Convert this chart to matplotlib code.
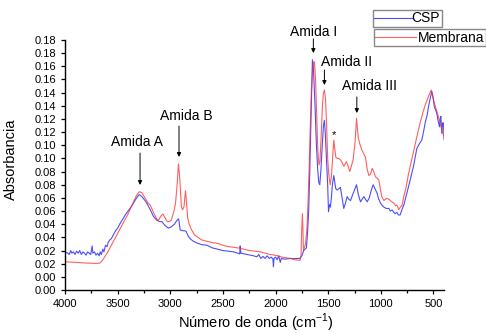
import matplotlib
matplotlib.use('Agg')
import matplotlib.pyplot as plt
from matplotlib.ticker import MultipleLocator, FixedLocator, FixedFormatter

plt.rcParams['font.family'] = ['Liberation Sans', 'DejaVu Sans']
plt.rcParams['mathtext.fontset'] = 'custom'
plt.rcParams['mathtext.rm'] = 'Liberation Sans'

# CSP spectrum (wavenumber, absorbance)
csp_wn = [4000, 3980, 3960, 3945, 3935, 3920, 3905, 3890, 3875, 3860,
          3845, 3830, 3815, 3800, 3785, 3770, 3755, 3742, 3735, 3720,
          3705, 3690, 3675, 3665, 3655, 3640, 3630, 3615, 3600, 3590,
          3575, 3560, 3540, 3520, 3500, 3477, 3450, 3420, 3382, 3350,
          3320, 3295, 3270, 3240, 3223, 3190, 3160, 3128, 3100, 3080,
          3050, 3017, 2990, 2960, 2937, 2920, 2906, 2880, 2860, 2849,
          2830, 2811, 2780, 2740, 2700, 2652, 2600, 2550, 2500, 2450,
          2399, 2360, 2340, 2336, 2330, 2300, 2270, 2240, 2208, 2190,
          2176, 2160, 2140, 2120, 2100, 2080, 2060, 2040, 2025, 2020,
          2015, 2000, 1985, 1970, 1955, 1945, 1920, 1891, 1860, 1830,
          1800, 1771, 1750, 1733, 1720, 1707, 1695, 1685, 1675, 1665,
          1655, 1650, 1640, 1625, 1612, 1600, 1590, 1580, 1570, 1555,
          1545, 1536, 1528, 1515, 1505, 1497, 1487, 1479, 1470, 1460,
          1447, 1438, 1428, 1415, 1400, 1384, 1368, 1352, 1336, 1320,
          1305, 1288, 1270, 1250, 1231, 1215, 1193, 1178, 1162, 1146,
          1130, 1110, 1090, 1073, 1055, 1035, 1020, 1003, 985, 971,
          950, 924, 910, 892, 876, 864, 848, 832, 817, 800,
          780, 753, 720, 690, 658, 635, 611, 595, 579, 560,
          548, 530, 516, 505, 491, 480, 468, 455, 443, 436,
          430, 425, 421, 413, 405, 398]
csp_abs = [0.028, 0.0285, 0.027, 0.030, 0.028, 0.029, 0.027, 0.0295, 0.028, 0.030,
           0.027, 0.029, 0.028, 0.0265, 0.029, 0.028, 0.027, 0.0335, 0.028, 0.029,
           0.0265, 0.028, 0.026, 0.029, 0.027, 0.031, 0.029, 0.034, 0.033, 0.036,
           0.038, 0.039, 0.042, 0.045, 0.047, 0.0505, 0.054, 0.058, 0.062, 0.066,
           0.070, 0.0725, 0.071, 0.068, 0.066, 0.061, 0.056, 0.053, 0.052, 0.052,
           0.049, 0.047, 0.048, 0.050, 0.053, 0.054, 0.0456, 0.045, 0.045, 0.0445,
           0.041, 0.039, 0.037, 0.0355, 0.0345, 0.034, 0.032, 0.031, 0.030, 0.0295,
           0.029, 0.028, 0.0275, 0.0335, 0.028, 0.0275, 0.027, 0.0265, 0.026, 0.0255,
           0.0253, 0.027, 0.024, 0.0255, 0.024, 0.026, 0.024, 0.025, 0.0235, 0.0177,
           0.024, 0.025, 0.023, 0.026, 0.021, 0.024, 0.0235, 0.0236, 0.024, 0.0238,
           0.024, 0.024, 0.026, 0.030, 0.031, 0.032, 0.045, 0.061, 0.090, 0.125,
           0.160, 0.175, 0.168, 0.140, 0.110, 0.092, 0.082, 0.080, 0.090, 0.112,
           0.125, 0.129, 0.120, 0.098, 0.080, 0.0595, 0.065, 0.063, 0.070, 0.080,
           0.087, 0.082, 0.077, 0.076, 0.077, 0.078, 0.070, 0.062, 0.066, 0.071,
           0.069, 0.068, 0.072, 0.076, 0.080, 0.073, 0.067, 0.069, 0.071, 0.069,
           0.067, 0.070, 0.076, 0.080, 0.077, 0.0735, 0.069, 0.066, 0.064, 0.063,
           0.062, 0.062, 0.060, 0.0608, 0.059, 0.058, 0.059, 0.057, 0.057, 0.061,
           0.065, 0.0735, 0.084, 0.094, 0.1076, 0.111, 0.114, 0.120, 0.127, 0.133,
           0.139, 0.146, 0.151, 0.147, 0.139, 0.137, 0.134, 0.128, 0.124, 0.130,
           0.132, 0.124, 0.119, 0.127, 0.127, 0.114]

# Membrana spectrum
mem_wn = [4000, 3900, 3800, 3700, 3667, 3640, 3600, 3560, 3520, 3480,
          3440, 3400, 3360, 3320, 3295, 3270, 3240, 3210, 3191, 3160,
          3130, 3112, 3090, 3070, 3050, 3030, 3010, 2990, 2965, 2950,
          2935, 2922, 2910, 2895, 2885, 2870, 2855, 2845, 2835, 2820,
          2800, 2770, 2747, 2700, 2650, 2600, 2557, 2500, 2450, 2400,
          2335, 2300, 2250, 2200, 2145, 2100, 2050, 2018, 1980, 1940,
          1900, 1860, 1820, 1790, 1767, 1758, 1752, 1745, 1740, 1735,
          1728, 1715, 1701, 1690, 1680, 1670, 1660, 1648, 1638, 1631,
          1620, 1608, 1598, 1587, 1578, 1568, 1555, 1545, 1536, 1525,
          1515, 1505, 1495, 1481, 1470, 1458, 1447, 1438, 1428, 1415,
          1400, 1384, 1368, 1352, 1327, 1310, 1295, 1263, 1245, 1231,
          1215, 1200, 1178, 1160, 1146, 1130, 1114, 1098, 1082, 1067,
          1051, 1035, 1019, 1003, 991, 971, 943, 924, 895, 876,
          860, 848, 829, 815, 797, 785, 760, 738, 715, 690,
          658, 627, 600, 579, 548, 522, 500, 468, 443, 430,
          421, 405, 398]
mem_abs = [0.0215, 0.021, 0.0205, 0.0202, 0.0205, 0.023, 0.028, 0.034, 0.040, 0.046,
           0.052, 0.058, 0.065, 0.072, 0.0747, 0.074, 0.070, 0.066, 0.0646, 0.059,
           0.054, 0.053, 0.056, 0.0578, 0.055, 0.052, 0.052, 0.053, 0.060, 0.066,
           0.080, 0.0958, 0.085, 0.064, 0.061, 0.063, 0.0755, 0.066, 0.055, 0.050,
           0.046, 0.042, 0.0405, 0.038, 0.037, 0.036, 0.0355, 0.034, 0.033, 0.0325,
           0.0317, 0.031, 0.030, 0.0295, 0.029, 0.028, 0.027, 0.0266, 0.026, 0.025,
           0.0245, 0.024, 0.023, 0.0228, 0.0225, 0.026, 0.045, 0.058, 0.046, 0.030,
           0.032, 0.035, 0.048, 0.070, 0.095, 0.125, 0.150, 0.168, 0.173, 0.1735,
           0.160, 0.130, 0.105, 0.095, 0.098, 0.115, 0.140, 0.150, 0.152, 0.145,
           0.125, 0.100, 0.088, 0.080, 0.086, 0.100, 0.114, 0.108, 0.101, 0.100,
           0.100, 0.099, 0.097, 0.094, 0.0975, 0.094, 0.090, 0.099, 0.112, 0.1305,
           0.116, 0.111, 0.106, 0.103, 0.101, 0.092, 0.087, 0.088, 0.0925, 0.090,
           0.086, 0.085, 0.0836, 0.076, 0.071, 0.068, 0.0697, 0.069, 0.067, 0.066,
           0.064, 0.0646, 0.061, 0.063, 0.0646, 0.070, 0.078, 0.088, 0.096, 0.105,
           0.1165, 0.127, 0.135, 0.1406, 0.147, 0.152, 0.1444, 0.1355, 0.129, 0.125,
           0.1216, 0.118, 0.115]

y_ticks = [i * 0.01 for i in range(20)]
y_tick_labels = ['0.00', '0.00', '0.02', '0.02', '0.04', '0.04', '0.06', '0.06', '0.08',
                 '0.08', '0.10', '0.10', '0.12', '0.12', '0.14', '0.14', '0.16', '0.16',
                 '0.18', '0.18']

# peak labels: text, text position, arrow x, arrow top, arrow tip
peak_labels = [('Amida A', 3316, 0.1125, 3287, 0.1041, 0.0798),
               ('Amida B', 2850, 0.1322, 2917, 0.1246, 0.1011),
               ('Amida I', 1634, 0.1957, 1641, 0.1908, 0.1801),
               ('Amida II', 1323, 0.1733, 1536, 0.1672, 0.1558),
               ('Amida III', 1111, 0.1550, 1228, 0.1467, 0.1345)]

fig = plt.figure(figsize=(4.86, 3.33), dpi=100)
ax = fig.add_axes([0.1337, 0.1291, 0.7799, 0.7508])

l1, = ax.plot(csp_wn, csp_abs, color='#2020ff', lw=0.8, alpha=0.8, label='CSP')
l2, = ax.plot(mem_wn, mem_abs, color='#ff2a2a', lw=0.8, alpha=0.75, label='Membrana')

ax.set_xlim(4000, 400)
ax.set_ylim(0, 0.19)
ax.xaxis.set_major_locator(MultipleLocator(500))
ax.xaxis.set_minor_locator(MultipleLocator(250))
ax.yaxis.set_major_locator(FixedLocator(y_ticks))
ax.yaxis.set_major_formatter(FixedFormatter(y_tick_labels))
ax.tick_params(axis='both', which='major', labelsize=8, length=3, width=0.9, direction='out')
ax.tick_params(axis='x', which='minor', length=2, width=0.9)
for s in ['top', 'right']:
    ax.spines[s].set_visible(False)
for s in ['left', 'bottom']:
    ax.spines[s].set_linewidth(1.0)

ax.set_xlabel(r'Número de onda (cm$^{-1}$)', fontsize=10.5)
ax.set_ylabel('Absorbancia', fontsize=10.5)
ax.yaxis.set_label_coords(-0.124, 0.524)
ax.xaxis.set_label_coords(0.503, -0.088)

for txt, tx, ty, ax_x, a_top, a_tip in peak_labels:
    ax.text(tx, ty, txt, fontsize=10, ha='center', va='center', clip_on=False)
    ax.annotate('', xy=(ax_x, a_tip), xytext=(ax_x, a_top), annotation_clip=False,
                arrowprops=dict(arrowstyle='-|>', color='black', lw=0.7,
                                mutation_scale=6, shrinkA=0, shrinkB=0))
ax.text(1441, 0.1178, '*', fontsize=8, ha='center', va='center')

leg1 = ax.legend(handles=[l1], loc='upper left', bbox_to_anchor=(0.767, 0.970),
                 bbox_transform=fig.transFigure, fontsize=10, fancybox=False,
                 edgecolor='#888888', framealpha=1, borderpad=0.1, borderaxespad=0,
                 handlelength=2.7, handletextpad=0.0)
leg1.get_frame().set_linewidth(1.0)
ax.add_artist(leg1)
leg2 = ax.legend(handles=[l2], loc='upper left', bbox_to_anchor=(0.7695, 0.912),
                 bbox_transform=fig.transFigure, fontsize=10, fancybox=False,
                 edgecolor='#888888', framealpha=1, borderpad=0.1, borderaxespad=0,
                 handlelength=2.9, handletextpad=0.15)
leg2.get_frame().set_linewidth(1.0)

fig.savefig('out.png', dpi=100)
